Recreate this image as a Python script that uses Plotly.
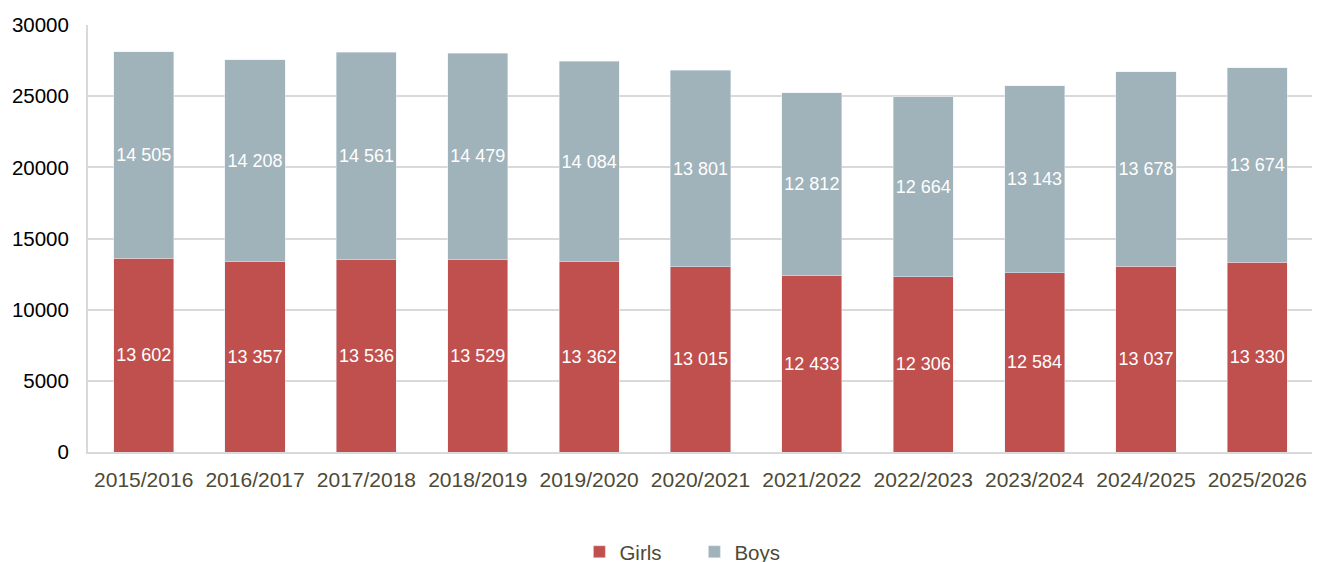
import plotly.graph_objects as go

years = ["2015/2016", "2016/2017", "2017/2018", "2018/2019", "2019/2020", "2020/2021",
         "2021/2022", "2022/2023", "2023/2024", "2024/2025", "2025/2026"]
girls = [13602, 13357, 13536, 13529, 13362, 13015, 12433, 12306, 12584, 13037, 13330]
boys = [14505, 14208, 14561, 14479, 14084, 13801, 12812, 12664, 13143, 13678, 13674]

def fmt(v):
    return f"{v:,}".replace(",", " ")

lab_font = dict(color="white", size=18, family="Liberation Sans")
fig = go.Figure()
fig.add_bar(x=years, y=girls, name="Girls", marker_color="#c0504d",
            text=[fmt(v) for v in girls], textposition="inside", insidetextanchor="middle",
            textangle=0, constraintext="none", textfont=lab_font, cliponaxis=False)
fig.add_bar(x=years, y=boys, name="Boys", marker_color="#a0b3ba",
            text=[fmt(v) for v in boys], textposition="inside", insidetextanchor="middle",
            textangle=0, constraintext="none", textfont=lab_font, cliponaxis=False)

fig.update_layout(
    barmode="stack", bargap=0.46,
    width=1320, height=590,
    margin=dict(l=80, r=15, t=17, b=146),
    plot_bgcolor="white", paper_bgcolor="white",
    font=dict(family="Liberation Sans", size=20, color="#000000"),
    uniformtext=dict(mode="show", minsize=18),
    legend=dict(orientation="h", x=0.495, xanchor="center", y=-0.234, yanchor="middle",
                font=dict(size=20.5, color="#4d4a35"), traceorder="normal",
                entrywidth=70, itemwidth=30),
    showlegend=True,
)
fig.update_xaxes(showline=True, linecolor="#d9d9d9", linewidth=2, ticks="",
                 automargin=False, ticklabelstandoff=8,
                 tickfont=dict(size=21, color="#4d4a35"))
fig.update_yaxes(range=[0, 30000], dtick=5000, tickformat="d", showgrid=True,
                 gridcolor="#d9d9d9", gridwidth=2, showline=True, linecolor="#d9d9d9",
                 linewidth=2, zeroline=False, ticks="", ticklen=0, automargin=False,
                 ticklabelstandoff=13, tickfont=dict(size=20.5, color="#000000"))

fig.write_html("out.html")
